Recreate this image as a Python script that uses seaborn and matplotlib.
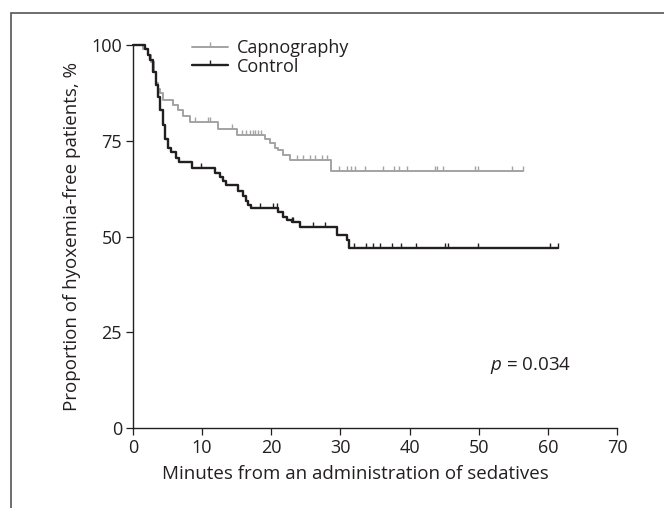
import numpy as np
import pandas as pd
import matplotlib
matplotlib.use('Agg')
import matplotlib.pyplot as plt
from matplotlib.lines import Line2D
from matplotlib.patches import Rectangle
import seaborn as sns

# --- Du lieu doc tu hinh (phut, % khong bi giam oxy) ---
capno_time = [0, 1.5, 2.2, 2.6, 3.0, 3.3, 3.6, 3.9, 4.3, 5.8, 6.5, 7.3, 8.2, 12.3, 15.0,
              19.1, 19.8, 20.5, 21.0, 21.7, 22.7, 28.6]
capno_surv = [100, 99, 97.5, 95.5, 93, 90, 88.5, 87.5, 85.6, 84.3, 82.9, 81.5, 80, 78, 76.5,
              75.5, 74.5, 73.2, 72.7, 71.3, 70, 67]
capno_end = 56.4
capno_censor = [9.0, 10.8, 11.1, 14.3, 15.8, 16.4, 16.9, 17.3, 17.7, 18.1, 18.5,
                23.7, 24.6, 25.6, 26.3, 27.3, 28.0, 29.8, 30.9, 31.6, 32.1, 33.6, 36.1,
                37.8, 38.5, 39.6, 43.7, 44.0, 44.8, 49.5, 49.9, 54.8, 56.4]

control_time = [0, 1.7, 2.2, 2.5, 2.9, 3.3, 3.6, 3.9, 4.3, 4.6, 5.0, 5.5, 6.2, 6.7, 8.6,
                11.9, 12.6, 13.0, 13.5, 15.2, 15.9, 16.3, 16.7, 17.1, 21.0, 21.7, 22.3,
                23.0, 24.2, 29.5, 30.9, 31.2]
control_surv = [100, 99, 97.5, 96, 93, 89.5, 86.5, 83, 79, 75.5, 73, 72, 70.5, 69.5, 68,
                66.5, 65.5, 64.5, 63.5, 62, 60.5, 59.2, 58.3, 57.4, 56.5, 55.2, 54.3,
                53.9, 52.6, 50.5, 49.2, 47]
control_end = 61.4
control_censor = [9.8, 18.4, 20.3, 20.8, 23.0, 23.2, 26.1, 27.8, 32.0, 33.7, 34.7, 35.7,
                  37.4, 38.8, 40.9, 45.1, 45.6, 49.9, 60.3, 61.4]

groups = ['Capnography', 'Control']
colors = ['#a3a3a3', '#231f20']
widths = [1.4, 1.7]
p_text = '$p$ = 0.034'

sns.set_style('ticks')
plt.rcParams['font.family'] = ['Open Sans', 'DejaVu Sans']
plt.rcParams['mathtext.fontset'] = 'custom'
plt.rcParams['mathtext.it'] = 'Open Sans:italic'
plt.rcParams['mathtext.rm'] = 'Open Sans'
ink = '#231f20'
fs = 13

fig = plt.figure(figsize=(6.64, 5.08), dpi=100)
ax = fig.add_axes([133 / 664, (508 - 428) / 508, 484 / 664, 383 / 508])

# khung vien quanh hinh
fig.patches.append(Rectangle((10.5 / 664, -0.05), 1.0, (508 - 13.5) / 508 + 0.05,
                             transform=fig.transFigure, fill=False,
                             edgecolor='#555555', lw=1.2))

data = [(capno_time, capno_surv, capno_end, capno_censor),
        (control_time, control_surv, control_end, control_censor)]
handles = []
for (t, s, end, cens), name, c, w in zip(data, groups, colors, widths):
    df = pd.DataFrame({'t': list(t) + [end], 's': list(s) + [s[-1]]})
    sns.lineplot(data=df, x='t', y='s', ax=ax, color=c, lw=w, estimator=None,
                 drawstyle='steps-post', clip_on=False)
    idx = np.searchsorted(np.array(t), np.array(cens), side='right') - 1
    ax.plot(cens, np.array(s)[idx], ls='none', marker=2, ms=3.5, mew=1.0, color=c)
    handles.append(Line2D([], [], color=c, lw=w, marker=2, ms=3.5, mew=1.0))

ax.text(51.6, 16.2, p_text, fontsize=13.5, color=ink, ha='left', va='center')

leg = ax.legend(handles, groups, loc='upper left', bbox_to_anchor=(0.122, 1.016),
                frameon=False, fontsize=fs, handlelength=2.0, handletextpad=0.5,
                borderpad=0, borderaxespad=0, labelspacing=0.05, numpoints=1)
for txt in leg.get_texts():
    txt.set_color(ink)

ax.set_xlim(0, 70)
ax.set_ylim(0, 100)
ax.set_xticks(range(0, 71, 10))
ax.set_yticks([0, 25, 50, 75, 100])
ax.tick_params(labelsize=fs, colors=ink, length=5, width=0.9, direction='out', pad=3)
sns.despine(ax=ax)
for sp in ['left', 'bottom']:
    ax.spines[sp].set_color(ink)
    ax.spines[sp].set_linewidth(1.0)

ax.set_xlabel('Minutes from an administration of sedatives', fontsize=13.5, color=ink)
ax.xaxis.set_label_coords(0.46, -0.097)
ax.set_ylabel('Proportion of hyoxemia-free patients, %', fontsize=13.5, color=ink,
              labelpad=7)

plt.savefig('out.png', dpi=100)
